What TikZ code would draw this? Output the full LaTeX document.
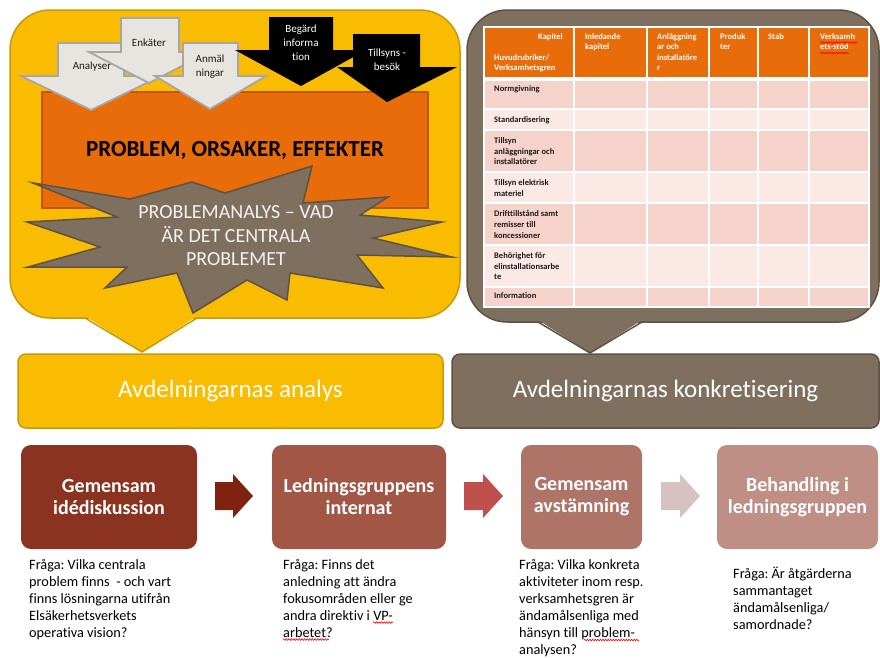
\documentclass[tikz,border=0pt]{standalone}
\usepackage{fontspec}
\setmainfont{Carlito}[Ligatures=NoCommon]
\usetikzlibrary{decorations.pathmorphing}
\frenchspacing
\definecolor{yel}{HTML}{F9BC00}
\definecolor{yelD}{HTML}{C79A0A}
\definecolor{org}{HTML}{E96C0A}
\definecolor{orgD}{HTML}{C0560C}
\definecolor{brn}{HTML}{7F6F5F}
\definecolor{brnD}{HTML}{5E5243}
\definecolor{arrL}{HTML}{E8E5E0}
\definecolor{arrLD}{HTML}{A6A6A6}
\definecolor{starT}{HTML}{F2F2F2}
\definecolor{rowA}{HTML}{F5D3CB}
\definecolor{rowB}{HTML}{FAE9E5}
\definecolor{boxA}{HTML}{8B3321}
\definecolor{boxB}{HTML}{A15646}
\definecolor{boxC}{HTML}{AE7467}
\definecolor{boxD}{HTML}{BF8E84}
\definecolor{arrA}{HTML}{7F2210}
\definecolor{arrB}{HTML}{C0504D}
\definecolor{arrC}{HTML}{D6C3C1}
\definecolor{txtD}{HTML}{1A1A1A}
\tikzset{
  lightarr/.style={fill=arrL, draw=arrLD, line width=1.8pt, line join=miter},
  blackarr/.style={fill=black},
  arrtxt/.style={font=\fontsize{11}{14}\selectfont, align=center, inner sep=0pt},
  tabtxt/.style={font=\fontsize{8.5}{10.6}\selectfont\bfseries, align=left, inner sep=0pt, anchor=north west, text=txtD},
  headtxt/.style={tabtxt, text=white},
  boxtitle/.style={font=\fontsize{20}{22}\selectfont\bfseries, text=white, align=center},
  question/.style={font=\fontsize{14.3}{17}\selectfont, align=left, anchor=north west, inner sep=0pt},
  banner/.style={rounded corners=8pt, line width=1.5pt, font=\fontsize{25}{28}\selectfont, text=white, minimum height=74pt},
  procbox/.style={rounded corners=10pt, minimum height=104pt},
  procarr/.style={line join=miter},
  squiggle/.style={red, line width=0.6pt, decorate, decoration={snake, amplitude=0.8pt, segment length=2.6pt}},
}
\begin{document}
\begin{tikzpicture}[x=1pt,y=-1pt]
\useasboundingbox (0,0) rectangle (880,657);

% ---------- yellow callout ----------
\draw[fill=yel, draw=yelD, line width=1.5pt, rounded corners=40pt] (10,10) rectangle (460,318);
\fill[yel] (85,316) -- (197,316) -- (142,352) -- cycle;
\draw[yelD, line width=1.5pt] (85,318) -- (142,352) -- (197,318);

% orange box
\node[draw=orgD, fill=org, line width=1.5pt, minimum width=386pt, minimum height=116pt] (prob) at (235,150) {};
\node[font=\fontsize{23}{26}\selectfont\bfseries] (probt) at (235,151) {PROBLEM, ORSAKER, EFFEKTER};

% light arrows
\draw[lightarr] (58,43) -- (124,43) -- (124,76) -- (161,76) -- (91,110) -- (21,76) -- (58,76) -- cycle;
\node[arrtxt, text=txtD] (anal) at (92,67) {Analyser};
\draw[lightarr] (121,18) -- (179,18) -- (179,52) -- (209,52) -- (149,83) -- (89,52) -- (121,52) -- cycle;
\node[arrtxt, text=txtD] (enk) at (149,43) {Enkäter};
\draw[lightarr] (183,43) -- (238,43) -- (238,76) -- (266,76) -- (210,109) -- (155,76) -- (183,76) -- cycle;
\node[arrtxt, text=txtD] (anm) at (210,67) {Anmäl\\ningar};

% black arrows
\fill[blackarr] (269,17) -- (333,17) -- (333,50) -- (366,50) -- (301,86) -- (235,50) -- (269,50) -- cycle;
\node[arrtxt, text=white] (beg) at (301,43) {Begärd\\informa\\tion};
\fill[blackarr] (353,34) -- (420,34) -- (420,67) -- (457,67) -- (387,102) -- (337,67) -- (353,67) -- cycle;
\node[arrtxt, text=white] (till) at (387,60) {Tillsyns -\\besök};

% star
\draw[fill=brn, draw=brnD, line width=1.5pt, line join=miter]
  (33,183) -- (130,199) -- (192,182) -- (225,193) -- (312,166) -- (303,203) -- (388,197) -- (360,215)
  -- (442,222) -- (373,238) -- (452,257) -- (357,255) -- (383,288) -- (290,273) -- (287,300)
  -- (247,280) -- (193,313) -- (177,273) -- (105,288) -- (127,267) -- (28,267) -- (100,247)
  -- (27,222) -- (117,217) -- cycle;
\node[font=\fontsize{20}{23.5}\selectfont, text=starT, align=center] (star) at (236,236)
  {PROBLEMANALYS – VAD\\ÄR DET CENTRALA\\PROBLEMET};

% ---------- brown callout ----------
\draw[fill=brn, draw=brnD, line width=1.5pt, rounded corners=40pt] (467,10) rectangle (879,322);
\fill[brn] (538,320) -- (642,320) -- (590,353) -- cycle;
\draw[brnD, line width=1.5pt] (538,322) -- (590,353) -- (642,322);

% table
\fill[org] (484,27) rectangle (869,79);
\fill[rowA] (484,79) rectangle (869,109);
\fill[rowB] (484,109) rectangle (869,130);
\fill[rowA] (484,130) rectangle (869,172);
\fill[rowB] (484,172) rectangle (869,203);
\fill[rowA] (484,203) rectangle (869,245);
\fill[rowB] (484,245) rectangle (869,287);
\fill[rowA] (484,287) rectangle (869,307);
\foreach \xx in {574,647,709,758,809} \draw[white, line width=1.8pt] (\xx,27) -- (\xx,307);
\foreach \yy in {109,130,172,203,245,287} \draw[white, line width=1.8pt] (484,\yy) -- (869,\yy);
\draw[white, line width=3.5pt] (484,79) -- (869,79);
\draw[white, line width=1.8pt] (484,27) rectangle (869,307);

\node[headtxt, anchor=north east] (hkap) at (563,33) {Kapitel};
\node[headtxt] (hhuv) at (494,54) {Huvudrubriker/\\Verksamhetsgren};
\node[headtxt] (hc1) at (585,33) {Inledande\\kapitel};
\node[headtxt] (hc2) at (657,33) {Anläggning\\ar och\\installatöre\\r};
\node[headtxt] (hc3) at (720,33) {Produk\\ter};
\node[headtxt] (hc4) at (768,33) {Stab};
\node[headtxt] (hc5) at (820,33) {Verksamh\\ets-stöd};
\draw[squiggle] (820,42.5) -- (858,42.5);
\draw[squiggle] (820,53) -- (849,53);

\node[tabtxt] (r1) at (494,85.5) {Normgivning};
\node[tabtxt] (r2) at (494,116.5) {Standardisering};
\node[tabtxt] (r3) at (494,137.5) {Tillsyn\\anläggningar och\\installatörer};
\node[tabtxt] (r4) at (494,179.5) {Tillsyn elektrisk\\materiel};
\node[tabtxt] (r5) at (494,210.5) {Drifttillstånd samt\\remisser till\\koncessioner};
\node[tabtxt] (r6) at (494,252.5) {Behörighet för\\elinstallationsarbe\\te};
\node[tabtxt] (r7) at (494,292.5) {Information};

% ---------- banners ----------
\node[banner, fill=yel, draw=yelD, minimum width=425pt] (ban1) at (230.5,391) {Avdelningarnas analys};
\node[banner, fill=brn, draw=brnD, minimum width=427pt] (ban2) at (665.5,391) {Avdelningarnas konkretisering};

% ---------- process ----------
\node[procbox, fill=boxA, minimum width=176pt] (b1) at (109,497) {};
\node[boxtitle] (t1) at (b1) {Gemensam\\idédiskussion};
\node[procbox, fill=boxB, minimum width=174pt] (b2) at (359,497) {};
\node[boxtitle] (t2) at (b2) {Ledningsgruppens\\internat};
\node[procbox, fill=boxC, minimum width=121pt] (b3) at (581.5,497) {};
\node[boxtitle] (t3) at (b3) {Gemensam\\avstämning};
\node[procbox, fill=boxD, minimum width=161pt] (b4) at (797.5,497) {};
\node[boxtitle] (t4) at (b4) {Behandling i\\ledningsgruppen};

\fill[arrA, procarr] (215,482) -- (233,482) -- (233,474) -- (253,496) -- (233,518) -- (233,510) -- (215,510) -- cycle;
\fill[arrB, procarr] (464,482) -- (483,482) -- (483,474) -- (503,496) -- (483,518) -- (483,510) -- (464,510) -- cycle;
\fill[arrC, procarr] (661,482) -- (680,482) -- (680,474) -- (700,496) -- (680,518) -- (680,510) -- (661,510) -- cycle;

\node[question] (q1) at (29,559) {Fråga: Vilka centrala\\problem finns\ \ - och vart\\finns lösningarna utifrån\\Elsäkerhetsverkets\\operativa vision?};
\node[question] (q2) at (283,559) {Fråga: Finns det\\anledning att ändra\\fokusområden eller ge\\andra direktiv i VP-\\arbetet?};
\node[question] (q3) at (519,559.5) {Fråga: Vilka konkreta\\aktiviteter inom resp.\\verksamhetsgren är\\ändamålsenliga med\\hänsyn till problem-\\analysen?};
\node[question] (q4) at (733,567) {Fråga: Är åtgärderna\\sammantaget\\ändamålsenliga/\\samordnade?};
\draw[squiggle] (373,622.5) -- (393,622.5);
\draw[squiggle] (283,639.5) -- (329,639.5);
\draw[squiggle] (584,640) -- (639,640);
\end{tikzpicture}
\end{document}
